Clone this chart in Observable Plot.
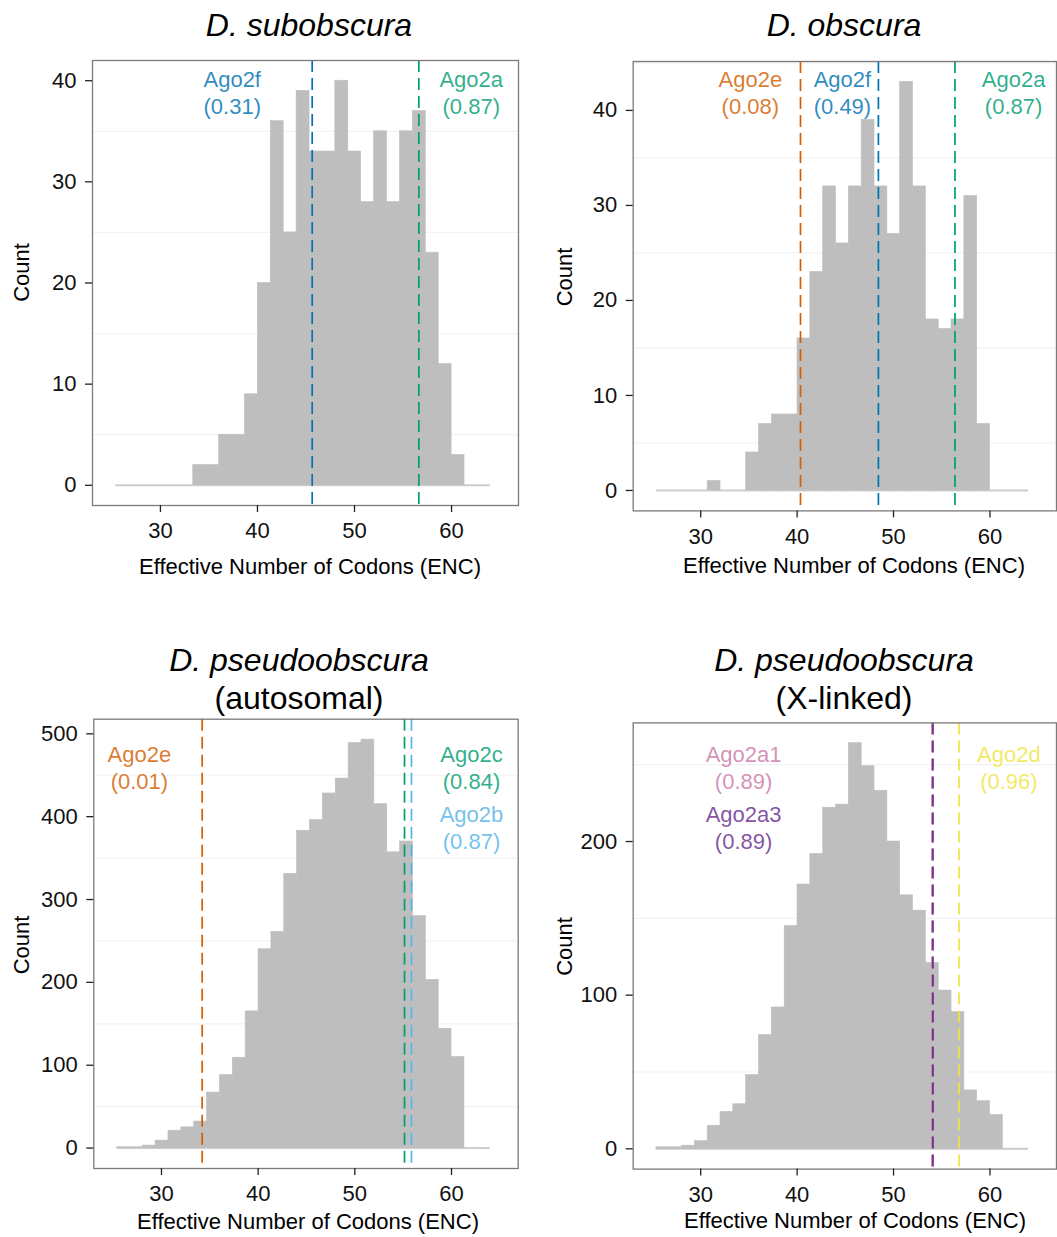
<!DOCTYPE html>
<html><head><meta charset="utf-8">
<script src="https://cdn.jsdelivr.net/npm/d3@7"></script>
<script src="https://cdn.jsdelivr.net/npm/@observablehq/plot@0.6"></script>
<style>
body{margin:0;background:#fff;}
#fig{position:relative;width:1057px;height:1237px;overflow:hidden;background:#fff;font-family:"Liberation Sans",Arial,Helvetica,sans-serif;}
#fig > svg{position:absolute;overflow:visible;}
</style></head><body><div id="fig"></div>
<script>
// ---- data ----
const binStart = 25.4, binEnd = 64.0, binCount = 29;
const xDomain = [23.0, 66.9];
const xTicks = [30, 40, 50, 60];
const xLabel = "Effective Number of Codons (ENC)";
const yLabel = "Count";

const subobscuraCounts = [0,0,0,0,0,0,2,2,5,5,9,20,36,25,39,33,33,40,33,28,35,28,35,37,23,12,3,0,0];
const obscuraCounts    = [0,0,0,0,1,0,0,4,7,8,8,16,23,32,26,32,39,32,27,43,32,18,17,18,31,7,0,0,0];
const pseudoAutoCounts = [1,1,3,9,21,25,32,67,88,109,165,240,261,331,383,396,428,446,489,493,415,357,370,280,203,144,110,0,0];
const pseudoXCounts    = [1,1,2,5,15,24,29,48,74,92,145,172,192,222,224,264,249,233,200,165,155,121,103,89,38,31,22,0,0];

const subobscuraTicks = [0,10,20,30,40];
const obscuraTicks = [0,10,20,30,40];
const pseudoAutoTicks = [0,100,200,300,400,500];
const pseudoXTicks = [0,100,200];

const subobscuraLines = [
  {gene:"Ago2f", enc:45.64, color:"#0072B2"},
  {gene:"Ago2a", enc:56.63, color:"#009E73"}];
const obscuraLines = [
  {gene:"Ago2e", enc:40.35, color:"#D55E00"},
  {gene:"Ago2f", enc:48.43, color:"#0072B2"},
  {gene:"Ago2a", enc:56.37, color:"#009E73"}];
const pseudoAutoLines = [
  {gene:"Ago2e", enc:34.21, color:"#D55E00"},
  {gene:"Ago2c", enc:55.14, color:"#009E73"},
  {gene:"Ago2b", enc:55.86, color:"#56B4E9"}];
const pseudoXLines = [
  {gene:"Ago2a1", enc:53.99, color:"#CC79A7"},
  {gene:"Ago2a3", enc:54.09, color:"#6A2C8E"},
  {gene:"Ago2d", enc:56.79, color:"#F0E442"}];

const subobscuraLabels = [
  {text:"Ago2f\n(0.31)", at:37.40, row:0, color:"#0072B2"},
  {text:"Ago2a\n(0.87)", at:62.03, row:0, color:"#009E73"}];
const obscuraLabels = [
  {text:"Ago2e\n(0.08)", at:35.15, row:0, color:"#D55E00"},
  {text:"Ago2f\n(0.49)", at:44.70, row:0, color:"#0072B2"},
  {text:"Ago2a\n(0.87)", at:62.45, row:0, color:"#009E73"}];
const pseudoAutoLabels = [
  {text:"Ago2e\n(0.01)", at:27.72, row:0, color:"#D55E00"},
  {text:"Ago2c\n(0.84)", at:62.07, row:0, color:"#009E73"},
  {text:"Ago2b\n(0.87)", at:62.07, row:1, color:"#56B4E9"}];
const pseudoXLabels = [
  {text:"Ago2a1\n(0.89)", at:34.45, row:0, color:"#CC79A7"},
  {text:"Ago2a3\n(0.89)", at:34.45, row:1, color:"#6A2C8E"},
  {text:"Ago2d\n(0.96)", at:61.96, row:0, color:"#F0E442"}];

// ---- layout ----
const panels = [
  {title:["D. subobscura"], counts:subobscuraCounts, ticks:subobscuraTicks, lines:subobscuraLines, labels:subobscuraLabels,
   left:0, top:0, W:530, H:600, mL:92, mR:12, mT:60, mB:95, labelDy:[8,68],
   titleX:309, titleY:[36], countX:28.5, countY:272.5, xlabX:310, xlabY:574},
  {title:["D. obscura"], counts:obscuraCounts, ticks:obscuraTicks, lines:obscuraLines, labels:obscuraLabels,
   left:540, top:0, W:517, H:600, mL:92.7, mR:1, mT:61, mB:89.6, labelDy:[7,67],
   titleX:844, titleY:[36], countX:572, countY:277, xlabX:854, xlabY:573},
  {title:["D. pseudoobscura","(autosomal)"], counts:pseudoAutoCounts, ticks:pseudoAutoTicks, lines:pseudoAutoLines, labels:pseudoAutoLabels,
   left:0, top:620, W:530, H:617, mL:93.3, mR:12.3, mT:98.7, mB:69, labelDy:[24.3,84.3],
   titleX:299, titleY:[671,709], countX:28.5, countY:945, xlabX:308, xlabY:1229},
  {title:["D. pseudoobscura","(X-linked)"], counts:pseudoXCounts, ticks:pseudoXTicks, lines:pseudoXLines, labels:pseudoXLabels,
   left:540, top:620, W:517, H:617, mL:92.7, mR:1, mT:102.4, mB:68.4, labelDy:[20.6,80.6],
   titleX:844, titleY:[671,709], countX:572, countY:946.5, xlabX:855, xlabY:1228}
];

const fig = document.getElementById("fig");
const FONT = '"Liberation Sans", Arial, Helvetica, sans-serif';
const bw = (binEnd - binStart) / binCount;

for (const p of panels) {
  const bins = p.counts.map((c, i) => ({x1: binStart + i * bw, x2: binStart + (i + 1) * bw, count: c}));
  const ymax = d3.max(p.counts);
  const step = p.ticks[1] - p.ticks[0];
  const minor = d3.range(step / 2, ymax * 1.05, step);
  const textMarks = [0, 1].map(r => Plot.text(p.labels.filter(d => d.row === r), {
    x: "at", text: "text", fill: "color", fillOpacity: 0.82,
    frameAnchor: "top", lineAnchor: "top", dy: p.labelDy[r],
    fontSize: 22, lineHeight: 1.2, fontFamily: FONT
  }));
  const svg = Plot.plot({
    width: p.W, height: p.H,
    marginLeft: p.mL, marginRight: p.mR, marginTop: p.mT, marginBottom: p.mB,
    x: {domain: xDomain},
    y: {domain: [-0.05 * ymax, 1.05 * ymax]},
    color: {type: "identity"},
    style: {fontFamily: FONT, fontSize: "22px", color: "#111", background: "transparent"},
    marks: [
      Plot.ruleY(minor, {stroke: "#f2f2f2", strokeWidth: 1.2}),
      Plot.ruleY(bins, {x1: "x1", x2: "x2", y: 0, stroke: "#cdcdcd", strokeWidth: 2}),
      Plot.rect(bins.filter(d => d.count > 0), {x1: "x1", x2: "x2", y1: 0, y2: "count", fill: "#BEBEBE", stroke: "#BEBEBE", strokeWidth: 0.6}),
      Plot.ruleX(p.lines, {x: "enc", stroke: "color", strokeWidth: 1.7, strokeDasharray: "12,6"}),
      ...textMarks,
      Plot.frame({stroke: "#7a7a7a", strokeWidth: 1.3}),
      Plot.axisX(xTicks, {tickSize: 7, tickPadding: 10, fontSize: 22, label: null, stroke: "#222", strokeWidth: 1.3}),
      Plot.axisY(p.ticks, {tickSize: 7, tickPadding: 9, fontSize: 22, label: null, stroke: "#222", strokeWidth: 1.3})
    ]
  });
  svg.style.left = p.left + "px";
  svg.style.top = p.top + "px";
  fig.appendChild(svg);
}

// titles and axis titles
const ov = d3.create("svg").attr("width", 1057).attr("height", 1237)
  .style("left", "0px").style("top", "0px").style("pointer-events", "none")
  .attr("font-family", FONT).attr("fill", "#000");
for (const p of panels) {
  p.title.forEach((t, i) => {
    ov.append("text").attr("x", p.titleX).attr("y", p.titleY[i])
      .attr("text-anchor", "middle").attr("font-size", 32)
      .attr("font-style", i === 0 ? "italic" : "normal").text(t);
  });
  ov.append("text").attr("x", p.xlabX).attr("y", p.xlabY)
    .attr("text-anchor", "middle").attr("font-size", 22).text(xLabel);
  ov.append("text").attr("transform", `translate(${p.countX},${p.countY}) rotate(-90)`)
    .attr("text-anchor", "middle").attr("font-size", 22).text(yLabel);
}
fig.appendChild(ov.node());
</script></body></html>
